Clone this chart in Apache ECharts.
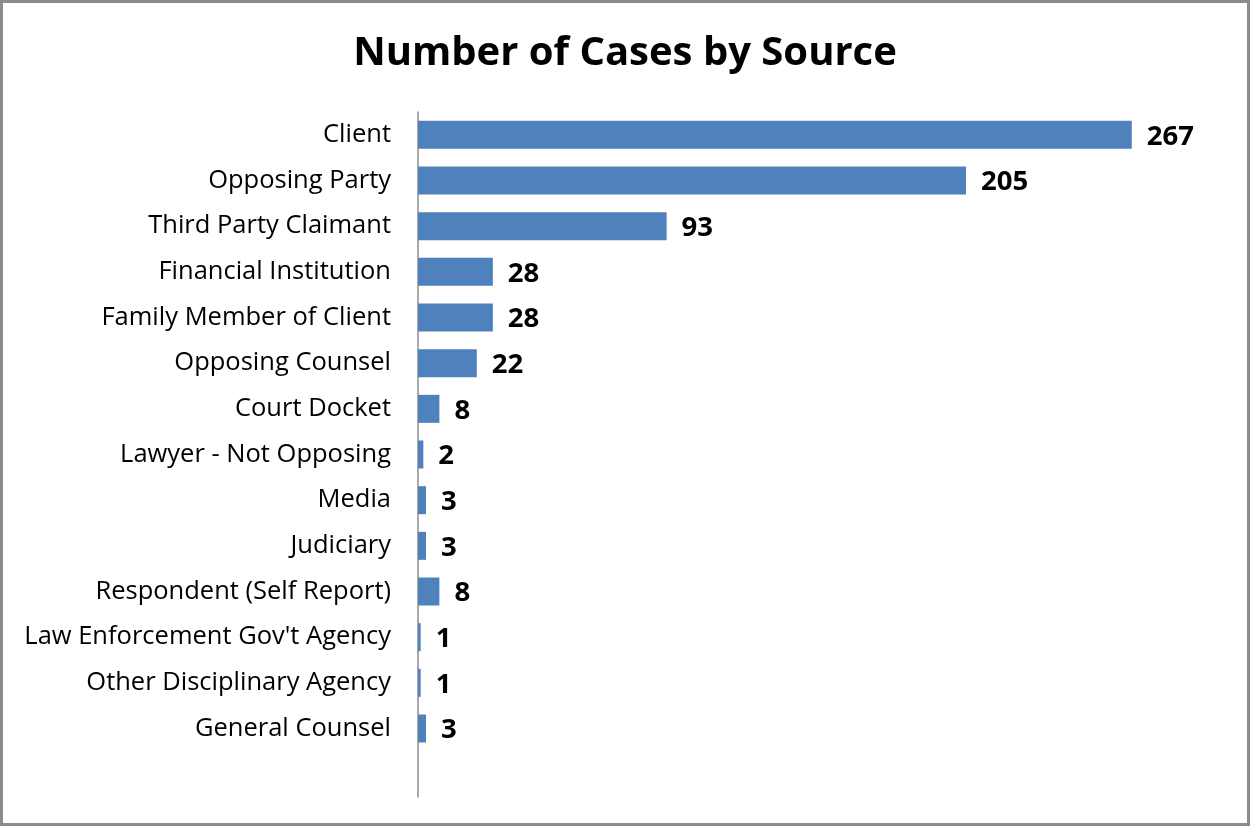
<!DOCTYPE html>
<html>
<head>
<meta charset="utf-8">
<script src="https://cdn.jsdelivr.net/npm/echarts@6/dist/echarts.min.js"></script>
<style>
  html, body { margin: 0; padding: 0; background: #fff; }
  #main {
    width: 1250px; height: 826px;
    box-sizing: border-box;
    border: 3px solid #8c8c8c;
  }
</style>
</head>
<body>
<div id="main"></div>
<script>
// categories top to bottom; the trailing blank one leaves the empty band at the bottom
var categories = ['Client', 'Opposing Party', 'Third Party Claimant', 'Financial Institution',
    'Family Member of Client', 'Opposing Counsel', 'Court Docket', 'Lawyer - Not Opposing',
    'Media', 'Judiciary', 'Respondent (Self Report)', "Law Enforcement Gov't Agency",
    'Other Disciplinary Agency', 'General Counsel', ''];
var cases = [267, 205, 93, 28, 28, 22, 8, 2, 3, 3, 8, 1, 1, 3, null];

var chartDom = document.getElementById('main');
var myChart = echarts.init(chartDom);

var option = {
    backgroundColor: '#fff',
    animation: false,
    title: {
        text: 'Number of Cases by Source',
        left: 'center',
        top: 26,
        textStyle: {
            fontFamily: 'Open Sans',
            fontWeight: 'bold',
            fontSize: 40,
            color: '#000'
        }
    },
    grid: {
        left: 415,
        top: 109,
        width: 802,
        height: 685,
        containLabel: false
    },
    xAxis: {
        type: 'value',
        min: 0,
        max: 300,
        show: false
    },
    yAxis: {
        type: 'category',
        data: categories,
        inverse: true,
        axisLine: { show: true, lineStyle: { color: '#8c8c8c', width: 1.5 } },
        axisTick: { show: false },
        axisLabel: {
            margin: 27,
            fontFamily: 'Open Sans',
            fontSize: 25.5,
            color: '#000'
        }
    },
    series: [
        {
            name: 'Cases',
            type: 'bar',
            data: cases,
            barWidth: 28,
            itemStyle: { color: '#4f81bd' },
            label: {
                show: true,
                position: 'right',
                distance: 15,
                offset: [0, 2],
                fontFamily: 'Open Sans',
                fontWeight: 'bold',
                fontSize: 27.5,
                color: '#000'
            }
        }
    ]
};
myChart.setOption(option);
</script>
</body>
</html>
